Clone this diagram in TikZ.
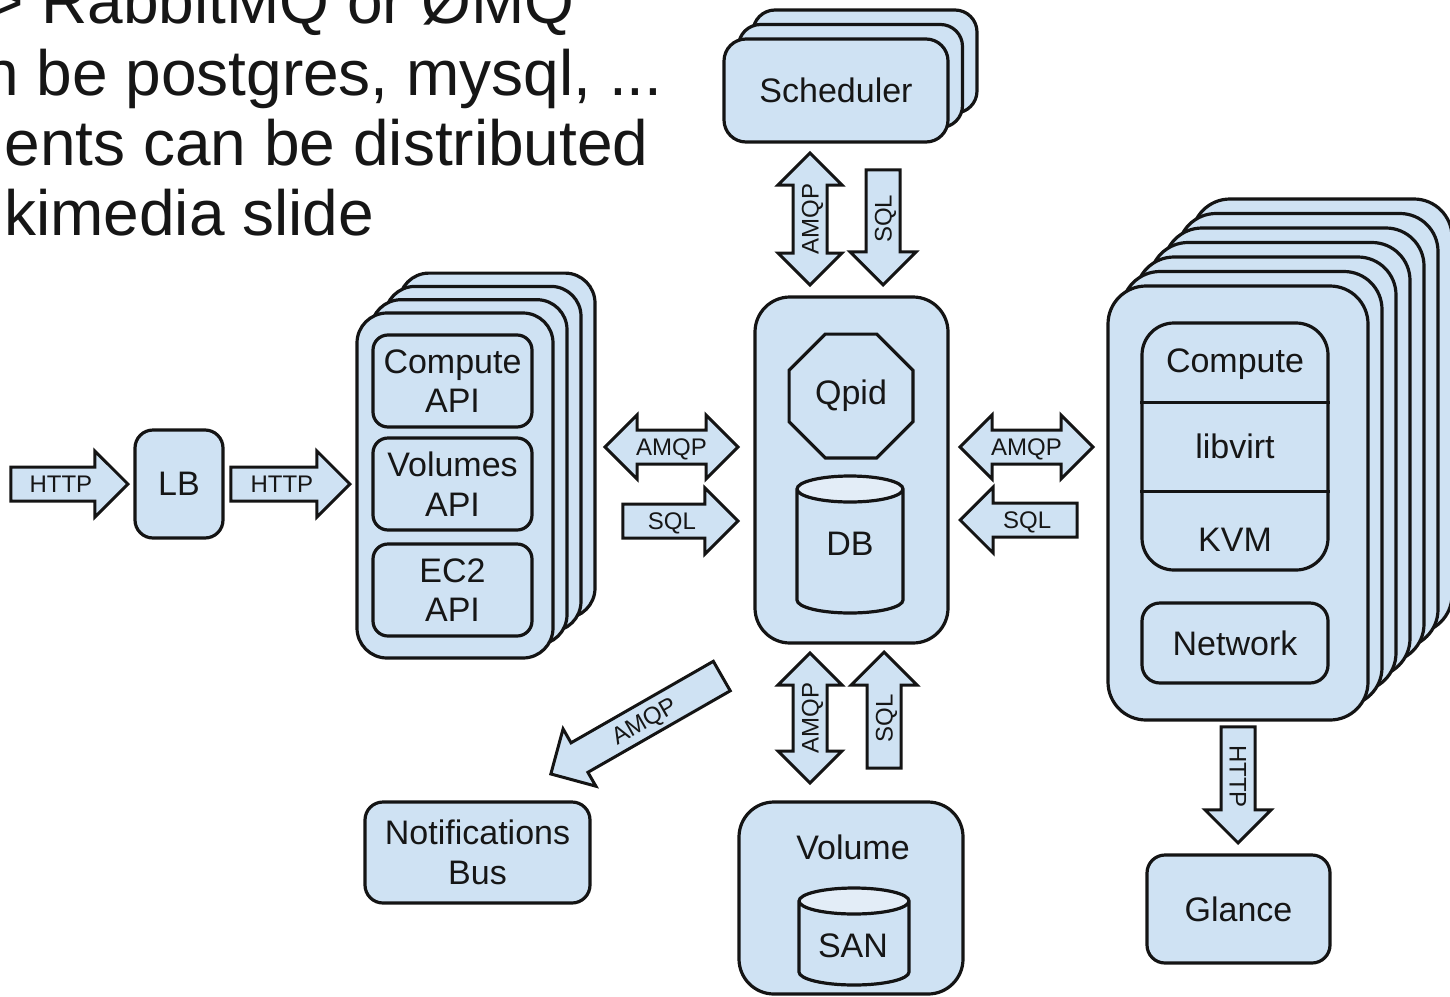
\documentclass[tikz,border=0pt]{standalone}
\usepackage{fontspec}
\setmainfont{Liberation Sans}
\usepackage{xcolor}
\usetikzlibrary{arrows.meta, positioning, shapes.geometric, shapes.arrows}
\definecolor{osblue}{HTML}{CFE2F3}
\definecolor{oslight}{HTML}{E3EDF7}
\definecolor{osline}{HTML}{141414}
\definecolor{osink}{HTML}{161616}

\begin{document}
\begin{tikzpicture}[x=1pt, y=-1pt,
    box/.style={draw=osline, line width=3.2pt, fill=osblue, rounded corners=18pt,
                inner sep=0pt, align=center, text=osink,
                font=\fontsize{34}{39.5}\selectfont},
    bigbox/.style={box, rounded corners=35pt},
    octa/.style={regular polygon, regular polygon sides=8, draw=osline,
                 line width=3.2pt, fill=osblue, inner sep=0pt, text=osink,
                 font=\fontsize{34}{39.5}\selectfont},
    db/.style={cylinder, shape border rotate=90, aspect=3.25, draw=osline,
               line width=3.2pt, cylinder uses custom fill,
               cylinder body fill=osblue, cylinder end fill=oslight,
               inner sep=4pt, anchor=shape center},
    tag/.style={anchor=base, inner sep=0pt, text=osink,
                font=\fontsize{34}{39.5}\selectfont},
    harrow/.style={single arrow, draw=osline, line width=3pt, fill=osblue,
                   single arrow head extend=16pt, inner xsep=4pt, inner ysep=7pt,
                   text height=17pt, text depth=0pt, text=osink,
                   font=\fontsize{24}{24}\selectfont},
    darrow/.style={double arrow, draw=osline, line width=3pt, fill=osblue,
                   double arrow head extend=15pt, inner xsep=4pt, inner ysep=7pt,
                   text height=17pt, text depth=0pt, text=osink,
                   font=\fontsize{24}{24}\selectfont},
    note/.style={anchor=base west, inner sep=0pt, text=osink,
                 font=\fontsize{64}{70}\selectfont},
  ]
  \useasboundingbox (0,0) rectangle (1450,996);

  % what is left of the slide text
  \node[note] (note1) at (-14,23) {> RabbitMQ or ØMQ};
  \node[note] (note2) at (-17,95) {n be postgres, mysql, ...};
  \node[note] (note3) at (4.5,165) {ents can be distributed};
  \node[note] (note4) at (4,235) {kimedia slide};

  % entry
  \node[box, minimum width=88pt, minimum height=108pt] (lb) at (179,484) {LB};
  \node[harrow, minimum height=117pt, anchor=tip] (httpin) at (130,484) {HTTP};
  \node[harrow, minimum height=119pt, anchor=tip] (httpapi) at (352,484) {HTTP};

  % api servers
  \foreach \i in {3,2,1}
    \node[bigbox, rounded corners=30pt, minimum width=196pt, minimum height=345pt]
      (api\i) at (455+14*\i, 485.5-13.3*\i) {};
  \node[bigbox, rounded corners=30pt, minimum width=196pt, minimum height=345pt]
    (api) at (455,485.5) {};
  \node[box, rounded corners=15pt, minimum width=159pt, minimum height=92pt]
    (capi) at (452.5,381) {Compute\\API};
  \node[box, rounded corners=15pt, minimum width=159pt, minimum height=92pt]
    (vapi) at (452.5,484) {Volumes\\API};
  \node[box, rounded corners=15pt, minimum width=159pt, minimum height=92pt]
    (eapi) at (452.5,590) {EC2\\API};

  % queue and database
  \node[bigbox, minimum width=193pt, minimum height=346pt] (hub) at (851.5,470) {};
  \node[octa, minimum size=134pt] (qpid) at (851,396) {Qpid};
  \node[db, minimum width=106pt, minimum height=137pt] (db) at (850,544.5) {};
  \node[tag] (dbtext) at (850,555) {DB};

  \node[darrow, minimum height=133pt] (amqpapi) at (671.5,447) {AMQP};
  \node[harrow, minimum height=115pt, anchor=tip] (sqlapi) at (740,521) {SQL};
  \node[darrow, minimum height=133pt] (amqphost) at (1026.5,447) {AMQP};
  \node[harrow, shape border rotate=180, minimum height=117pt, anchor=tip]
    (sqlhost) at (958,520) {SQL};

  % scheduler
  \foreach \i in {2,1}
    \node[box, rounded corners=22pt, minimum width=224pt, minimum height=103pt]
      (sched\i) at (836+14.5*\i, 90.5-14.5*\i) {};
  \node[box, rounded corners=22pt, minimum width=224pt, minimum height=103pt]
    (sched) at (836,90.5) {Scheduler};
  \node[darrow, rotate=90, minimum height=132pt] (amqpsched) at (810,219) {AMQP};
  \node[harrow, rotate=90, shape border rotate=180, minimum height=115pt, anchor=tip]
    (sqlsched) at (883,287) {SQL};

  % compute hosts
  \foreach \i in {6,...,1}
    \node[bigbox, rounded corners=38pt, minimum width=260pt, minimum height=434pt]
      (host\i) at (1238+14*\i, 503-14.5*\i) {};
  \node[bigbox, rounded corners=38pt, minimum width=260pt, minimum height=434pt]
    (host) at (1238,503) {};
  \node[box, rounded corners=32pt, minimum width=186pt, minimum height=247pt]
    (hyper) at (1235,446.5) {};
  \coordinate (cut1) at (0,402);
  \coordinate (cut2) at (0,491);
  \draw[draw=osline, line width=3pt] (hyper.west |- cut1) -- (hyper.east |- cut1);
  \draw[draw=osline, line width=3pt] (hyper.west |- cut2) -- (hyper.east |- cut2);
  \node[tag] (compute) at (1235,372) {Compute};
  \node[tag] (libvirt) at (1235,458) {libvirt};
  \node[tag] (kvm) at (1235,551) {KVM};
  \node[box, minimum width=186pt, minimum height=80pt] (net) at (1235,643) {Network};

  \node[harrow, rotate=-90, minimum height=116pt, anchor=tip] (httpglance) at (1238,845) {HTTP};
  \node[box, minimum width=183pt, minimum height=108pt] (glance) at (1238.5,909) {Glance};

  % notifications and volumes
  \node[box, minimum width=225pt, minimum height=101pt] (notif) at (477.5,852.5)
    {Notifications\\Bus};
  \node[harrow, rotate=29.8, shape border rotate=180, minimum height=197pt, anchor=tip]
    (amqpnotif) at (549,775) {AMQP};

  \node[darrow, rotate=90, minimum height=130pt] (amqpvol) at (810,718) {AMQP};
  \node[harrow, rotate=90, minimum height=116pt, anchor=tip] (sqlvol) at (884,650) {SQL};
  \node[bigbox, minimum width=224pt, minimum height=192pt] (vol) at (851,898) {};
  \node[tag] (voltext) at (853,859) {Volume};
  \node[db, minimum width=110pt, minimum height=97pt] (san) at (854,936.5) {};
  \node[tag] (santext) at (853,957) {SAN};
\end{tikzpicture}
\end{document}
